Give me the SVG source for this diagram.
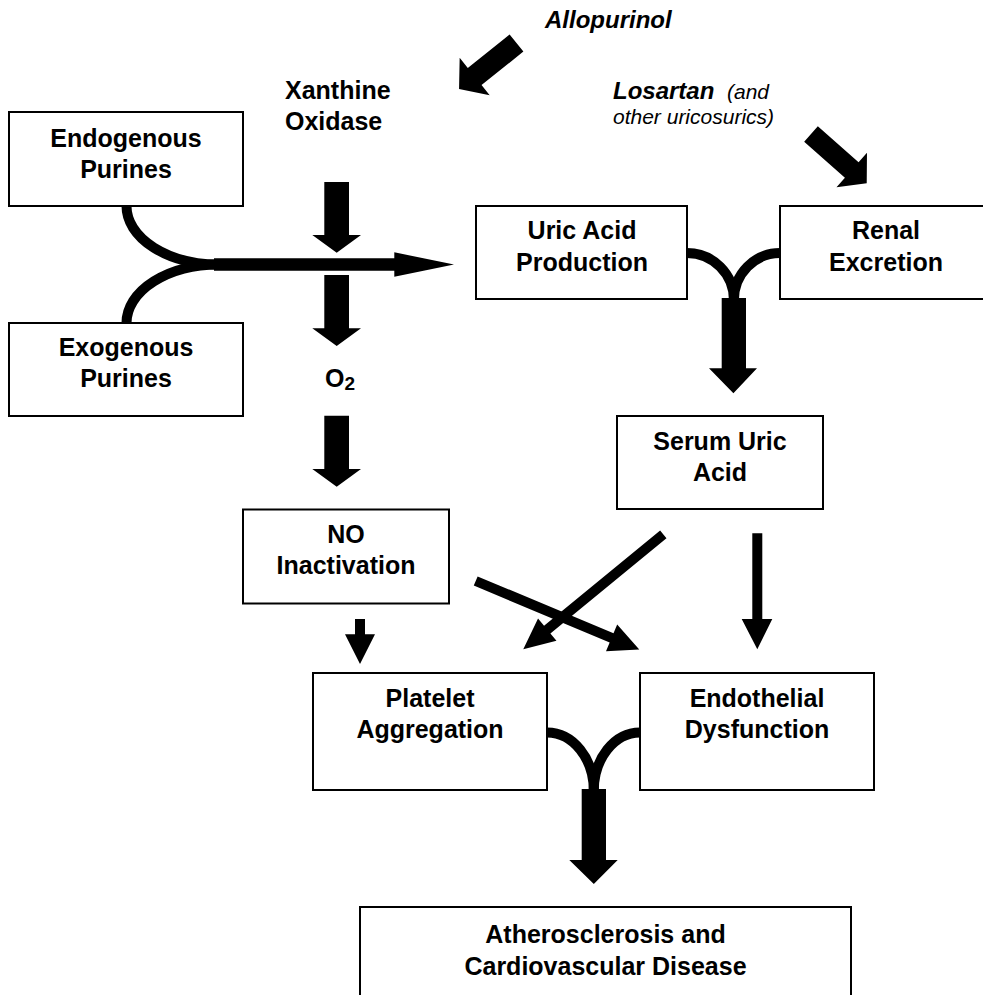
<svg xmlns="http://www.w3.org/2000/svg" width="983" height="995" viewBox="0 0 983 995">
<style>
.box{fill:#fff;stroke:#000;stroke-width:2}
.t{font-family:"Liberation Sans",Arial,Helvetica,sans-serif;font-weight:bold;font-size:25px;text-anchor:middle;fill:#000}
.tl{font-family:"Liberation Sans",Arial,Helvetica,sans-serif;font-weight:bold;font-size:25px;fill:#000}
.drug{font-family:"Liberation Sans",Arial,Helvetica,sans-serif;font-weight:bold;font-style:italic;font-size:24px;fill:#000}
.note{font-family:"Liberation Sans",Arial,Helvetica,sans-serif;font-weight:normal;font-style:italic;font-size:21px;fill:#000}
.arr{fill:#000;stroke:none}
.curve{fill:none;stroke:#000;stroke-width:10}
</style>
<rect width="983" height="995" fill="#fff"/>
<g id="connectors">
  <!-- purine merge curves -->
  <path class="curve" d="M126.5,206 A92,58.5 0 0 0 220,264.5"/>
  <path class="curve" d="M126.5,323 A92,58.5 0 0 1 220,264.5"/>
  <polygon class="arr" points="214,258.3 394.3,258.3 394.3,252.3 454,264.5 394.3,276.7 394.3,270.7 214,270.7"/>
  <!-- xanthine oxidase arrows -->
  <polygon class="arr" points="324.3,182 349,182 349,235 361,235 336.7,252.7 312.3,235 324.3,235"/>
  <polygon class="arr" points="324.3,275 349,275 349,328.3 361,328.3 336.7,346 312.3,328.3 324.3,328.3"/>
  <polygon class="arr" points="324.3,415.7 349,415.7 349,469 361,469 336.7,486.7 312.3,469 324.3,469"/>
  <!-- Allopurinol arrow -->
  <polygon class="arr" transform="translate(516.5,43) rotate(141.3)" points="0,-11 53.6,-11 53.6,-24 73.6,0 53.6,24 53.6,11 0,11"/>
  <!-- Losartan arrow -->
  <polygon class="arr" transform="translate(811,134) rotate(41.5)" points="0,-10.3 54.4,-10.3 54.4,-23 74.4,0 54.4,23 54.4,10.3 0,10.3"/>
  <!-- uric acid Y -->
  <path class="curve" d="M687,253 A47,47 0 0 1 733.9,300"/>
  <path class="curve" d="M780,253 A46,47 0 0 0 733.9,300"/>
  <polygon class="arr" points="721.7,298 746,298 746,368.3 757,368.3 733.4,393.3 709,368.3 721.7,368.3"/>
  <!-- NO inactivation to platelet -->
  <polygon class="arr" points="355,619 365,619 365,634.3 375,634.3 360,664 345,634.3 355,634.3"/>
  <!-- NO inactivation to endothelial -->
  <polygon class="arr" transform="translate(475.7,581) rotate(22.7)" points="0,-5 147.3,-5 147.3,-14.5 177.3,0 147.3,14.5 147.3,5 0,5"/>
  <!-- serum uric acid to platelet -->
  <polygon class="arr" transform="translate(663.3,534.3) rotate(140.6)" points="0,-5 150.2,-5 150.2,-14.5 181.2,0 150.2,14.5 150.2,5 0,5"/>
  <!-- serum uric acid to endothelial -->
  <polygon class="arr" points="752.3,533.3 762.3,533.3 762.3,619 772.3,619 757.3,649.3 741.7,619 752.3,619"/>
  <!-- bottom Y -->
  <path class="curve" d="M547,732.5 A46.7,58 0 0 1 593.8,791"/>
  <path class="curve" d="M640,732.5 A46.2,58 0 0 0 593.8,791"/>
  <polygon class="arr" points="581.7,789 606,789 606,860 617.7,860 593.8,884 569.3,860 581.7,860"/>
</g>
<g id="endogenous">
  <rect class="box" x="9" y="112" width="234" height="94"/>
  <text class="t" x="126" y="147">Endogenous</text>
  <text class="t" x="126" y="177.5">Purines</text>
</g>
<g id="exogenous">
  <rect class="box" x="9" y="323" width="234" height="93"/>
  <text class="t" x="126" y="356">Exogenous</text>
  <text class="t" x="126" y="387">Purines</text>
</g>
<g id="xanthine-oxidase">
  <text class="tl" x="285" y="98.5">Xanthine</text>
  <text class="tl" x="285" y="129.5">Oxidase</text>
</g>
<g id="o2">
  <text class="tl" x="325" y="387">O<tspan font-size="19" dy="3">2</tspan></text>
</g>
<g id="allopurinol">
  <text class="drug" x="545" y="28">Allopurinol</text>
</g>
<g id="losartan">
  <text class="drug" x="613" y="98.5">Losartan</text>
  <text class="note" x="727" y="98.5">(and</text>
  <text class="note" x="613" y="123.5">other uricosurics)</text>
</g>
<g id="uric-acid-production">
  <rect class="box" x="476" y="206" width="211" height="93"/>
  <text class="t" x="582" y="238.5">Uric Acid</text>
  <text class="t" x="582" y="270.5">Production</text>
</g>
<g id="renal-excretion">
  <rect class="box" x="780" y="206" width="212" height="93"/>
  <text class="t" x="886" y="239">Renal</text>
  <text class="t" x="886" y="270.5">Excretion</text>
</g>
<g id="serum-uric-acid">
  <rect class="box" x="617" y="416" width="206" height="93"/>
  <text class="t" x="720" y="450">Serum Uric</text>
  <text class="t" x="720" y="481">Acid</text>
</g>
<g id="no-inactivation">
  <rect class="box" x="243" y="509.5" width="206" height="94"/>
  <text class="t" x="346" y="542.5">NO</text>
  <text class="t" x="346" y="573.5">Inactivation</text>
</g>
<g id="platelet-aggregation">
  <rect class="box" x="313" y="673" width="234" height="117"/>
  <text class="t" x="430" y="706.5">Platelet</text>
  <text class="t" x="430" y="738">Aggregation</text>
</g>
<g id="endothelial-dysfunction">
  <rect class="box" x="640" y="673" width="234" height="117"/>
  <text class="t" x="757" y="706.5">Endothelial</text>
  <text class="t" x="757" y="738">Dysfunction</text>
</g>
<g id="atherosclerosis">
  <rect class="box" x="360" y="907" width="491" height="100"/>
  <text class="t" x="605.5" y="943">Atherosclerosis and</text>
  <text class="t" x="605.5" y="975">Cardiovascular Disease</text>
</g>
</svg>
